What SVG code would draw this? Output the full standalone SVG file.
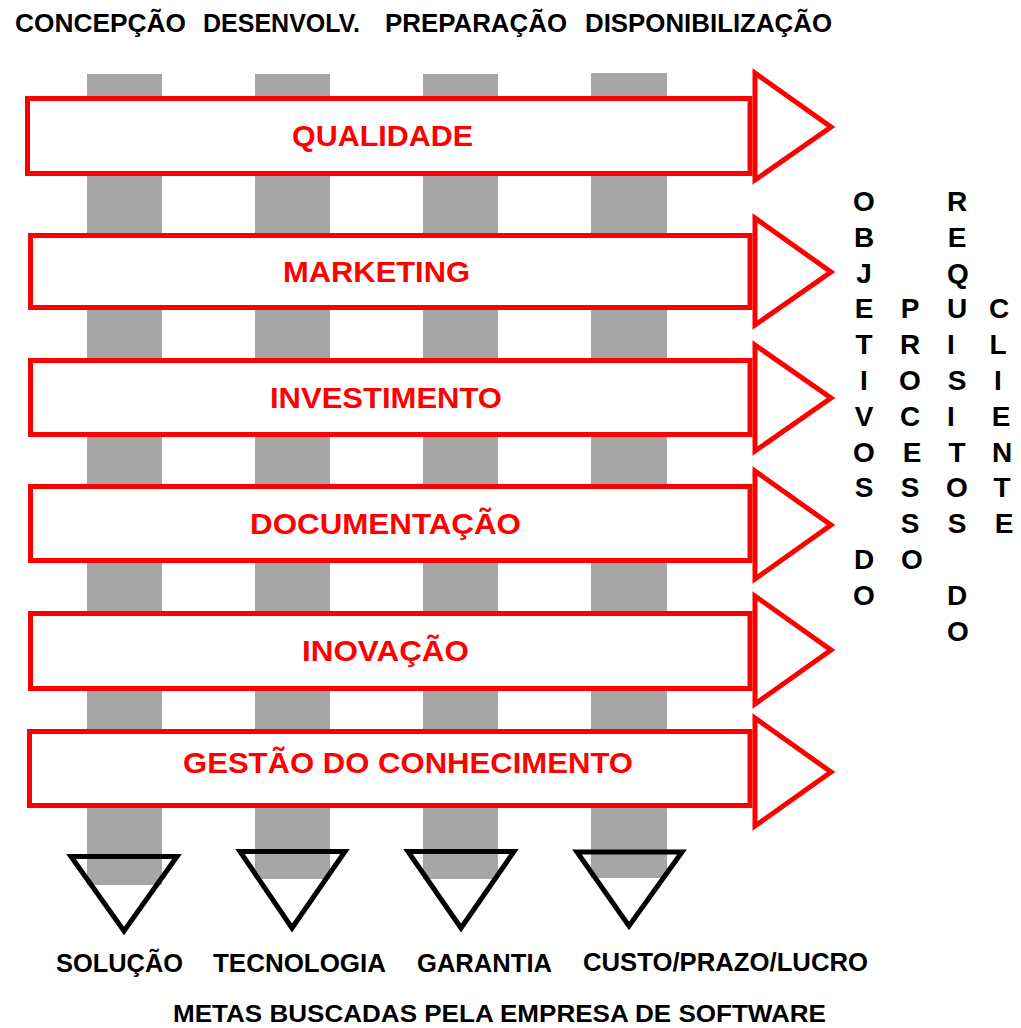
<svg xmlns="http://www.w3.org/2000/svg" width="1021" height="1028" viewBox="0 0 1021 1028">
<style>
.bar{fill:#a6a6a6}
.box{fill:#fff;stroke:#ff0000;stroke-width:5}
.arr{fill:#fff;stroke:#ff0000;stroke-width:5;stroke-linejoin:miter}
.tri{fill:none;stroke:#000;stroke-width:5;stroke-linejoin:miter}
.lbl{font-family:"Liberation Sans",Arial,sans-serif;font-weight:bold;font-size:30px;fill:#ff0000}
.hd{font-family:"Liberation Sans",Arial,sans-serif;font-weight:bold;font-size:26px;fill:#000}
.ft{font-family:"Liberation Sans",Arial,sans-serif;font-weight:bold;font-size:24px;fill:#000}
.v{font-family:"Liberation Sans",Arial,sans-serif;font-weight:bold;font-size:28px;fill:#000;text-anchor:middle}
</style>
<rect width="1021" height="1028" fill="#fff"/>
<g id="header">
<text class="hd" x="15" y="32" textLength="171" lengthAdjust="spacingAndGlyphs">CONCEPÇÃO</text>
<text class="hd" x="203" y="32" textLength="157" lengthAdjust="spacingAndGlyphs">DESENVOLV.</text>
<text class="hd" x="385" y="32" textLength="182" lengthAdjust="spacingAndGlyphs">PREPARAÇÃO</text>
<text class="hd" x="585" y="32" textLength="247" lengthAdjust="spacingAndGlyphs">DISPONIBILIZAÇÃO</text>
</g>
<g id="bars">
<rect class="bar" x="87" y="74" width="75" height="811"/>
<rect class="bar" x="255" y="74" width="75" height="805"/>
<rect class="bar" x="423" y="74" width="75" height="805"/>
<rect class="bar" x="591" y="73" width="76" height="805"/>
</g>
<g id="qualidade">
<rect class="box" x="27.5" y="98.5" width="722.5" height="75"/>
<polygon class="arr" points="755,73 831,127 755,180"/>
<text class="lbl" x="292" y="146" textLength="181" lengthAdjust="spacingAndGlyphs">QUALIDADE</text>
</g>
<g id="marketing">
<rect class="box" x="30.5" y="235.5" width="719.5" height="72"/>
<polygon class="arr" points="755,218 831,272 755,325"/>
<text class="lbl" x="283" y="282" textLength="187" lengthAdjust="spacingAndGlyphs">MARKETING</text>
</g>
<g id="investimento">
<rect class="box" x="30.5" y="360.5" width="719.5" height="74"/>
<polygon class="arr" points="755,345 831,398 755,451"/>
<text class="lbl" x="270" y="408" textLength="232" lengthAdjust="spacingAndGlyphs">INVESTIMENTO</text>
</g>
<g id="documentacao">
<rect class="box" x="30.5" y="486.5" width="719.5" height="74"/>
<polygon class="arr" points="755,471 831,525 755,579"/>
<text class="lbl" x="250" y="534" textLength="271" lengthAdjust="spacingAndGlyphs">DOCUMENTAÇÃO</text>
</g>
<g id="inovacao">
<rect class="box" x="30.5" y="613.5" width="719.5" height="75"/>
<polygon class="arr" points="755,596 831,650 755,704"/>
<text class="lbl" x="302" y="661" textLength="167" lengthAdjust="spacingAndGlyphs">INOVAÇÃO</text>
</g>
<g id="gestao">
<rect class="box" x="29.5" y="731.5" width="720.5" height="74"/>
<polygon class="arr" points="755,718 831,772 755,826"/>
<text class="lbl" x="183" y="773" textLength="450" lengthAdjust="spacingAndGlyphs">GESTÃO DO CONHECIMENTO</text>
</g>
<g id="objetivos">
<text class="v" x="864" y="211">O</text>
<text class="v" x="864" y="246.8">B</text>
<text class="v" x="864" y="282.6">J</text>
<text class="v" x="864" y="318.4">E</text>
<text class="v" x="864" y="354.2">T</text>
<text class="v" x="864" y="390">I</text>
<text class="v" x="864" y="425.8">V</text>
<text class="v" x="864" y="461.6">O</text>
<text class="v" x="864" y="497.4">S</text>
<text class="v" x="864" y="569">D</text>
<text class="v" x="864" y="604.8">O</text>
</g>
<g id="processo">
<text class="v" x="910" y="318.4">P</text>
<text class="v" x="910" y="354.2">R</text>
<text class="v" x="910" y="390">O</text>
<text class="v" x="910" y="425.8">C</text>
<text class="v" x="912" y="461.6">E</text>
<text class="v" x="910" y="497.4">S</text>
<text class="v" x="910" y="533.2">S</text>
<text class="v" x="912" y="569">O</text>
</g>
<g id="requisitos">
<text class="v" x="957" y="211">R</text>
<text class="v" x="957" y="246.8">E</text>
<text class="v" x="958" y="282.6">Q</text>
<text class="v" x="957" y="318.4">U</text>
<text class="v" x="951" y="354.2">I</text>
<text class="v" x="957" y="390">S</text>
<text class="v" x="951" y="425.8">I</text>
<text class="v" x="957" y="461.6">T</text>
<text class="v" x="957" y="497.4">O</text>
<text class="v" x="957" y="533.2">S</text>
<text class="v" x="957" y="604.8">D</text>
<text class="v" x="958" y="640.6">O</text>
</g>
<g id="cliente">
<text class="v" x="999" y="318.4">C</text>
<text class="v" x="998" y="354.2">L</text>
<text class="v" x="998" y="390">I</text>
<text class="v" x="1001" y="425.8">E</text>
<text class="v" x="1002" y="461.6">N</text>
<text class="v" x="1002" y="497.4">T</text>
<text class="v" x="1004" y="533.2">E</text>
</g>
<g id="metas">
<polygon class="tri" points="71,856.5 177,856.5 124,931"/>
<polygon class="tri" points="240,851.5 345,851.5 292,928"/>
<polygon class="tri" points="408,851.5 514,851.5 461,928"/>
<polygon class="tri" points="577,852 682,852 629,926"/>
<text class="hd" x="56" y="972" textLength="127" lengthAdjust="spacingAndGlyphs">SOLUÇÃO</text>
<text class="hd" x="213" y="972" textLength="173" lengthAdjust="spacingAndGlyphs">TECNOLOGIA</text>
<text class="hd" x="417" y="972" textLength="135" lengthAdjust="spacingAndGlyphs">GARANTIA</text>
<text class="hd" x="583" y="971" textLength="285" lengthAdjust="spacingAndGlyphs">CUSTO/PRAZO/LUCRO</text>
<text class="ft" x="173" y="1022" textLength="653" lengthAdjust="spacingAndGlyphs">METAS BUSCADAS PELA EMPRESA DE SOFTWARE</text>
</g>
</svg>
